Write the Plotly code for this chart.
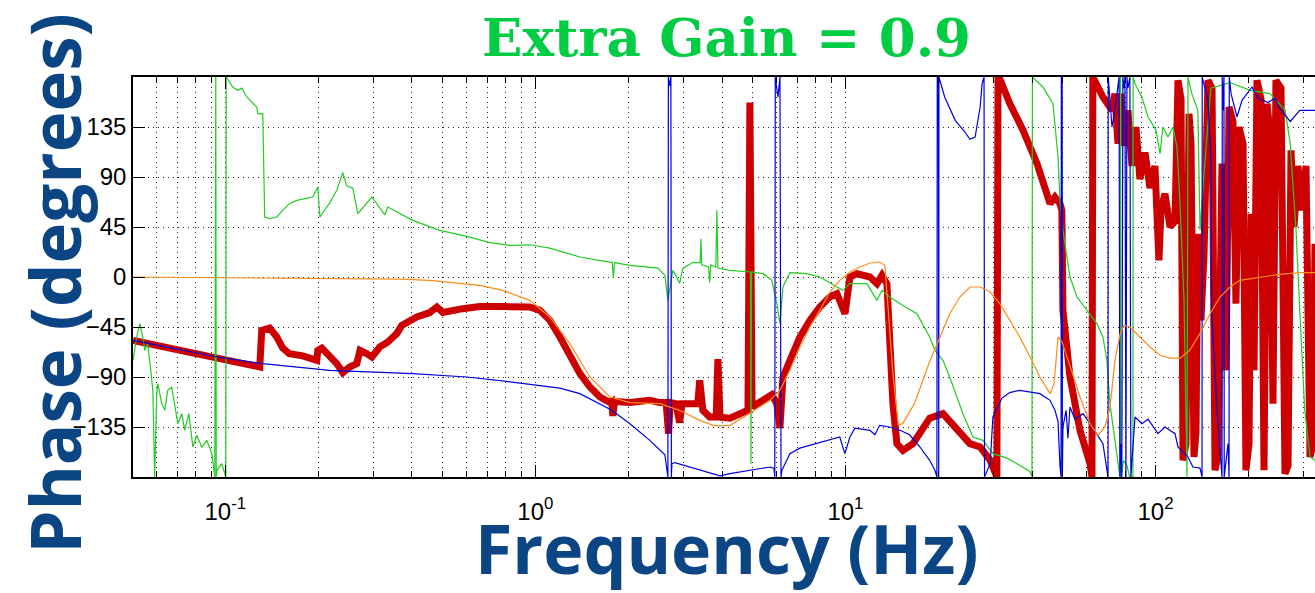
import plotly.graph_objects as go

# ---------------- data ----------------
orange_f = [0.0504, 0.202, 0.366, 0.457, 0.662, 0.785, 0.96, 1.114, 1.292, 1.50, 1.74, 2.02, 2.52, 2.92, 3.39,
            3.79, 4.24, 4.92, 5.71, 6.15, 6.62, 7.13, 7.68, 8.27, 8.91, 9.59, 10.34, 11.14, 12.0, 12.9, 13.4,
            13.7, 14.2, 14.8, 15.3, 16.7, 18.7, 20.2, 21.7, 23.4, 25.2, 27.2, 29.3, 31.5, 33.9, 36.5, 39.4,
            42.4, 45.7, 47.1, 48.5, 49.9, 53.0, 57.1, 61.5, 65.2, 68.7, 71.3, 74.0, 76.8, 79.1, 82.7, 89.1,
            96, 103.4, 111.4, 120, 129, 139, 150, 161.5, 174, 187, 217, 252, 292, 327]
orange_p = [0, -1, -2, -3, -7.5, -12, -21, -36, -60, -90, -108, -113, -114, -120, -129,
            -134, -133.5, -122.6, -111, -102, -84, -63, -45, -30, -13.5, -3, 4.5, 9, 12.6, 13.5, 10.5,
            -24, -84, -133, -132, -114, -76, -54, -33, -18, -9, -9, -13.5, -24, -39, -54, -72,
            -90, -105, -96, -54, -58, -80, -108, -132, -142.5, -135, -118, -75, -52, -43.5, -45, -54,
            -63, -70.5, -73, -73, -66, -51, -33, -18, -9, -3, 0, 2.4, 4, 4]

blue_f = [0.0504, 0.0946, 0.1321, 0.2174, 0.4025, 0.601, 0.809, 0.960, 1.20, 1.392, 1.615, 1.765, 2.018, 2.34,
          2.617, 2.676, 2.686, 2.716, 2.736, 2.746, 2.756, 2.818, 3.15, 3.65, 3.94, 4.24, 4.92, 5.71, 5.88,
          5.92, 5.94, 6.06, 6.15, 6.20, 6.24, 6.62, 7.13, 8.27, 9.59, 9.96, 10.34, 10.73, 12.0, 12.45, 12.9,
          13.9, 15.0, 16.1, 17.4, 18.7, 19.44, 19.73, 19.78, 19.88, 19.95, 20.0, 20.03, 20.9, 22.6, 24.3,
          25.2, 26.2, 27.2, 27.6, 28.0, 28.1, 29.3, 29.9, 32.0, 33.9, 36.5, 42.4, 45.7, 47.4, 48.5, 49.2,
          49.6, 49.7, 49.9, 50.0, 50.1, 50.3, 51.5, 52.2, 53.0, 55.0, 58.4, 61.5, 67.7, 69.7, 70.3, 70.4,
          72.4, 74.0, 76.3, 76.8, 77.4, 77.9, 78.5, 79.1, 79.7, 80.3, 80.9, 81.5, 82.7, 83.3, 85.9, 90.4,
          94.6, 101.9, 107.3, 115.6, 118.2, 127.3, 132.1, 139.2, 141.3, 141.5, 147.7, 150.9, 152, 158,
          163.9, 164.2, 165.1, 166.3, 166.6, 171.4, 172.7, 173, 175.3, 183.2, 190.1, 204.8, 214.1, 230.7,
          243.0, 248.5, 272, 292, 327]
blue_p = [-57, -72, -78, -84, -87, -90, -94, -96.6, -100, -105, -114, -120, -132, -147,
          -160, -179.9, 179.9, 172, 179.9, -179.9, -168, -167, -171, -176, -179, -177, -174, -171, -172,
          -179.9, 179.9, 162, 179.9, -179.9, -174, -159, -154, -149, -144, -159, -144, -136, -138, -142, -133.5,
          -135, -138, -142, -153, -165, -174, -179.9, 179.9, 170, 179.9, -179.9, 179.9, 162, 141, 130.5,
          124, 126, 153, 174, 179.9, -179.9, -168, -126, -109, -104, -102, -105, -111, -120, -130, -170,
          -179.9, 179.9, 175, 179.9, -179.9, -135, -120, -145, -117, -128, -123, -132, -150, -175, -179.9, 179.9,
          135, 150, 179.9, -179.9, -150, -179.9, 179.9, 170, 179.9, -179.9, 179.9, 170, 179.9, -179.9, -126, -132,
          -128, -141, -135, -141, -153, -162, -171, -172, -179.9, 179.9, 159, 107, -36, -120,
          -179.9, 179.9, 150, 179.9, -179.9, -150, -179.9, 179.9, 165, 144, 159, 171, 161, 157,
          161, 154, 140, 150, 150]

green_f = [0.0504, 0.0518, 0.0530, 0.0542, 0.0550, 0.0562, 0.0575, 0.0584, 0.0592, 0.0601, 0.0606, 0.0624,
           0.0638, 0.0652, 0.0672, 0.0687, 0.0703, 0.0724, 0.0740, 0.0763, 0.0786, 0.0809, 0.0840, 0.0872,
           0.0905, 0.0925, 0.0928, 0.0932, 0.0935, 0.0940, 0.0974, 0.1004, 0.1007, 0.1019, 0.1057, 0.1097,
           0.1130, 0.1173, 0.1263, 0.1273, 0.1321, 0.1331, 0.1340, 0.139, 0.1466, 0.1532, 0.161, 0.1700,
           0.1832, 0.1915, 0.1988, 0.202, 0.2174, 0.2289, 0.2393, 0.2465, 0.2577, 0.2676, 0.2970, 0.3270,
           0.3343, 0.4025, 0.4918, 0.601, 0.7131, 0.8274, 0.960, 1.114, 1.392, 1.77, 1.785, 1.80, 2.018,
           2.484, 2.617, 2.676, 2.777, 2.92, 2.991, 3.222, 3.40, 3.42, 3.44, 3.574, 3.62, 3.65, 3.68, 3.82,
           3.85, 3.88, 4.24, 4.94, 4.96, 4.98, 5.42, 5.79, 6.01, 6.15, 6.29, 6.62, 7.51, 8.27, 9.39, 9.81,
           10.34, 11.73, 12.64, 13.12, 13.9, 15.79, 17.01, 18.7, 19.44, 20.63, 21.7, 22.89, 23.93, 25.78,
           27.77, 29.9, 33.19, 35.74, 39.4, 39.96, 40.1, 43.36, 46.71, 48.5, 49.2, 50.3, 51.8, 53.0, 55.83,
           60.1, 64.76, 67.7, 69.7, 71.3, 75.1, 76.3, 76.8, 76.9, 77.2, 77.4, 79.0, 81.0, 82.5, 84.6, 84.7,
           85.9, 90.4, 94.6, 100.4, 103.4, 105.7, 109.7, 113.9, 117.3, 120, 123.6, 126.4, 127.3, 131,
           137, 139.2, 144, 150.9, 174, 202, 234, 262, 272, 284, 292, 303, 315, 327]
green_p = [-75, -54, -42, -54, -66, -60, -84, -102, -180, -105, -96, -114,
           -120, -102, -99, -114, -132, -123, -138, -123, -153, -142.5, -153, -147,
           -159, -179.9, 179.9, 179.9, -179.9, -174, -168, -179.9, 179.9, 178, 171, 168,
           170, 162, 153, 147, 147, 102, 54, 52.5, 54, 60, 66, 69,
           70.5, 72, 81, 54, 67, 78, 94, 82, 80, 57, 72, 56,
           63, 51, 42, 36.6, 31, 28.5, 29, 26, 18, 13, -1, 13, 10.5,
           8, 1.5, -21, 6, -5.7, 8, 13, 13, 34.5, 11, 9, 9, -5, 11, 9,
           60, 8, 6, 4.5, -168, 4.5, 3, -3, -24, -42, -9, 4, 3, 0, -9, -12,
           -6, -6, -21, -12, -18, -28, -33, -54, -66, -75, -90, -108, -123, -144,
           -147, -159, -163, -168, -175, -179.9, 179.9, 171, 156, 108, 69, 42, 18, 0, -18,
           -30, -42, -54, -75, -114, -159, -175, -179.9, 179.9, 179.9, -179.9, -165, -170, -179.9, -179.9, 179.9,
           174, 162, 144, 132, 111, 135, 126, 135, 117, 66, -20, -179.9, 179.9, 165,
           150, 42, 100, 170, 175, 168, 165, 150, 120, 42, -30, -120, -162, -165]

red_f = [0.0504, 0.1292, 0.1311, 0.139, 0.1466, 0.1532, 0.161, 0.1778, 0.1973, 0.1988, 0.2048, 0.2174,
         0.2289, 0.2393, 0.252, 0.2655, 0.272, 0.2861, 0.2970, 0.315, 0.3343, 0.3573, 0.3710, 0.4147,
         0.4567, 0.4812, 0.5031, 0.5834, 0.662, 0.7855, 0.960, 1.034, 1.114, 1.20, 1.292, 1.392, 1.50,
         1.615, 1.74, 1.765, 1.778, 1.80, 2.018, 2.34, 2.52, 2.64, 2.69, 2.72, 2.84, 2.92, 2.97, 3.34,
         3.39, 3.45, 3.47, 3.65, 3.83, 3.88, 3.94, 4.24, 4.67, 4.85, 4.92, 5.0, 5.42, 5.79, 6.01, 6.15,
         6.29, 6.62, 7.13, 7.68, 8.27, 8.91, 9.39, 9.97, 10.34, 10.89, 12.0, 12.64, 13.12, 13.61, 13.9,
         14.23, 14.66, 15.33, 16.51, 18.7, 20.63, 22.89, 25.2, 27.2, 29.3, 30.8, 31.06, 31.5, 33.9, 37.4,
         41.5, 45.7, 47.4, 49.2, 49.9, 50.3, 53.0, 57.1, 61.5, 62.4, 62.8, 67.7, 72.4, 74.0, 75.7, 77.4,
         79.1, 81.5, 84.0, 86.5, 89.1, 92.5, 96.0, 99.6, 101.1, 102.6, 104.2, 107.3, 111.4, 115.6,
         118.2, 120.9, 122.7, 125.4, 128.3, 130.2, 133.1, 135.1, 137.1, 140.2, 143.4, 147.7, 152.2, 155.6,
         159.1, 163.9, 168.8, 172.7, 177.8, 181.8, 185.9, 191.6, 195.8, 200.3, 203.3, 207.9, 212.5, 218.9,
         223.9, 228.9, 234.1, 239.3, 244.7, 254.0, 261.6, 267.6, 273.6, 279.8, 288.2, 296.9, 305.8, 315.1,
         322.2, 326.9]
red_p = [-57, -81, -48, -46, -54, -64, -69, -71, -75, -66, -64, -70.5,
         -78, -86, -81, -78, -66, -69, -72, -63, -58.5, -51, -43.5, -36,
         -32, -27, -32, -28.5, -26.6, -26.6, -27, -30, -39, -54, -72, -87, -99,
         -108, -113, -112, -125, -112, -113, -111, -113, -113, -141, -113, -114, -131, -114, -114,
         -93, -118, -120, -126, -126, -74, -126, -127, -123, -120, 157, -117, -111, -106, -114, -136,
         -90, -75, -54, -39, -27, -18, -15, -33, 0, 3, 0, -6, 1.5, -6, -54,
         -114, -150, -156, -150, -127, -123, -138, -150, -153, -165, -179.9, 179.9, 178, 156, 132,
         102, 66, 72, 66, 60, -30, -90, -138, -168, -179.9, 179.9, 162, 150, 165, 120, 165,
         118, 150, 100, 135, 88, 112, 80, 100, 60, 15, 60, 75, 45, 50,
         177, 160, -165, -150, 147, 120, -162, -140, 39, -39, 20, 177, 170, -174,
         -160, 102, -84, 153, 140, -24, 135, 120, -174, -150, 57, -84, 177, 160,
         -174, 156, 130, -114, 177, 170, -177, -170, 114, 45, 100, 60, 100, -162,
         -150, 30]

x_major_vals = [0.1, 1, 10, 100]
x_major_text = ["10<sup>-1</sup>", "10<sup>0</sup>", "10<sup>1</sup>", "10<sup>2</sup>"]
x_minor_vals = [m * d for d in (0.01, 0.1, 1, 10, 100) for m in range(2, 10)]
y_tick_vals = [-135, -90, -45, 0, 45, 90, 135]

# ---------------- figure ----------------
fig = go.Figure()
fig.add_trace(go.Scatter(x=red_f, y=red_p, mode="lines",
                         line=dict(color="#cc0000", width=7), hoverinfo="skip"))
fig.add_trace(go.Scatter(x=green_f, y=green_p, mode="lines",
                         line=dict(color="#22cc22", width=1.2), hoverinfo="skip"))
fig.add_trace(go.Scatter(x=blue_f, y=blue_p, mode="lines",
                         line=dict(color="#0000dd", width=1.2), hoverinfo="skip"))
fig.add_trace(go.Scatter(x=orange_f, y=orange_p, mode="lines",
                         line=dict(color="#ff8c1a", width=1.2), hoverinfo="skip"))

grid_dash = "1px,4px"
fig.update_xaxes(
    type="log", range=[-1.2976, 2.5145],
    tickvals=x_major_vals, ticktext=x_major_text,
    ticks="inside", ticklen=12, tickwidth=1, tickcolor="black",
    showgrid=True, gridcolor="#222", griddash=grid_dash, gridwidth=1,
    minor=dict(tickvals=x_minor_vals, ticks="inside", ticklen=6, tickcolor="black",
               showgrid=True, gridcolor="#222", griddash=grid_dash, gridwidth=1),
    showline=True, linecolor="black", linewidth=1.5, mirror="ticks",
    tickfont=dict(family="Liberation Sans", size=24, color="black"),
    ticklabelstandoff=12, zeroline=False,
)
fig.update_yaxes(
    range=[-180, 180], tickvals=y_tick_vals,
    ticks="inside", ticklen=12, tickwidth=1, tickcolor="black",
    showgrid=True, gridcolor="#222", griddash=grid_dash, gridwidth=1,
    showline=True, linecolor="black", linewidth=1.5, mirror=False,
    tickfont=dict(family="Liberation Sans", size=24, color="black"),
    zeroline=False,
)

fig.add_annotation(text="<b>Extra Gain = 0.9</b>", xref="paper", yref="paper", x=0.5017, y=1.1,
                   showarrow=False, xanchor="center", yanchor="middle",
                   font=dict(family="DejaVu Serif", size=53, color="#00cc44"))
fig.add_annotation(text="<b>Phase (degrees)</b>", xref="paper", yref="paper", x=-0.067, y=0.485,
                   showarrow=False, xanchor="center", yanchor="middle", textangle=-90,
                   font=dict(family="Open Sans", size=69, color="#0b4584"))
fig.add_annotation(text="<b>Frequency (Hz)</b>", xref="paper", yref="paper", x=0.5025, y=-0.177,
                   showarrow=False, xanchor="center", yanchor="middle",
                   font=dict(family="Open Sans", size=68, color="#0b4584"))

fig.update_layout(
    width=1315, height=593,
    margin=dict(l=133, r=0, t=77, b=116),
    paper_bgcolor="white", plot_bgcolor="white",
    showlegend=False,
)
fig.write_html("out.html")
